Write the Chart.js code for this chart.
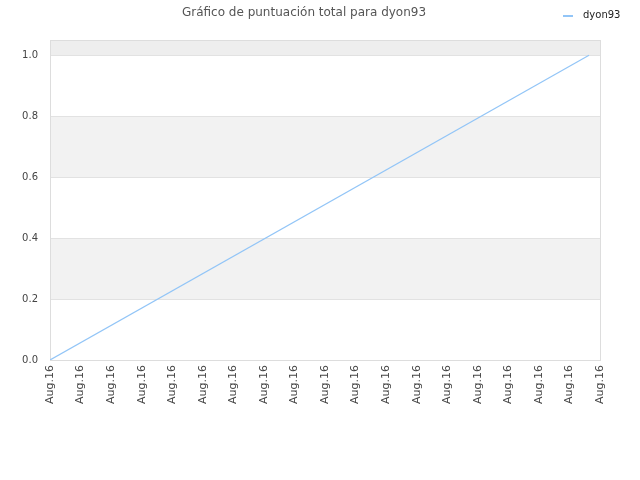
<!DOCTYPE html>
<html>
<head>
<meta charset="utf-8">
<script src="https://cdn.jsdelivr.net/npm/chart.js@4/dist/chart.umd.min.js"></script>
<style>
  html, body { margin: 0; padding: 0; background: #fff; }
  #wrap { width: 640px; height: 480px; }
</style>
</head>
<body>
<div id="wrap"><canvas id="lineChart" width="640" height="480"></canvas></div>
<script>
// Datos del gráfico
const chartTitle = 'Gráfico de puntuación total para dyon93';
const seriesName = 'dyon93';
const xLabels = ['Aug.16', 'Aug.16', 'Aug.16', 'Aug.16', 'Aug.16', 'Aug.16', 'Aug.16',
    'Aug.16', 'Aug.16', 'Aug.16', 'Aug.16', 'Aug.16', 'Aug.16', 'Aug.16',
    'Aug.16', 'Aug.16', 'Aug.16', 'Aug.16', 'Aug.16'];
const xPositions = [0, 17.64];
const scores = [0.0, 1.0];
const bands = [[0.2, 0.4], [0.6, 0.8], [1.0, 1.05]];

const lineColor = '#92c5f7';

// Bandas grises, borde del área y título/leyenda dibujados a mano
const decorPlugin = {
    id: 'decor',
    beforeDatasetsDraw(chart) {
        const { ctx, chartArea: a, scales: { y } } = chart;
        ctx.save();
        bands.forEach((b, i) => {
            const top = y.getPixelForValue(b[1]);
            const bottom = y.getPixelForValue(b[0]);
            ctx.fillStyle = i === bands.length - 1 ? '#eeeeee' : '#f2f2f2';
            ctx.fillRect(a.left, top, a.right - a.left, bottom - top);
        });
        // líneas de la rejilla por encima de las bandas
        ctx.strokeStyle = '#e2e2e2';
        ctx.lineWidth = 1;
        y.ticks.forEach(t => {
            const py = Math.round(y.getPixelForValue(t.value)) + 0.5;
            ctx.beginPath();
            ctx.moveTo(a.left, py);
            ctx.lineTo(a.right, py);
            ctx.stroke();
        });
        ctx.strokeStyle = '#dddddd';
        ctx.strokeRect(Math.round(a.left) + 0.5, Math.round(a.top) + 0.5,
            Math.round(a.right - a.left), Math.round(a.bottom - a.top));
        ctx.restore();
    },
    afterDraw(chart) {
        const { ctx } = chart;
        ctx.save();
        ctx.fillStyle = '#555555';
        ctx.font = '12px "DejaVu Sans"';
        ctx.textAlign = 'center';
        ctx.textBaseline = 'middle';
        ctx.fillText(chartTitle, 304, 13);

        ctx.strokeStyle = lineColor;
        ctx.lineWidth = 2;
        ctx.beginPath();
        ctx.moveTo(563, 16);
        ctx.lineTo(573, 16);
        ctx.stroke();
        ctx.fillStyle = '#222222';
        ctx.font = '10px "DejaVu Sans"';
        ctx.textAlign = 'left';
        ctx.fillText(seriesName, 583, 15);
        ctx.restore();
    }
};

const ctx = document.getElementById('lineChart').getContext('2d');
new Chart(ctx, {
    type: 'line',
    data: {
        datasets: [{
            label: seriesName,
            data: xPositions.map((x, i) => ({ x: x, y: scores[i] })),
            borderColor: lineColor,
            borderWidth: 1.2,
            pointRadius: 0,
            fill: false,
            tension: 0
        }]
    },
    options: {
        responsive: false,
        animation: false,
        devicePixelRatio: 1,
        layout: { padding: { left: 0, top: 40, right: 40, bottom: 0 } },
        plugins: {
            legend: { display: false },
            title: { display: false },
            tooltip: { enabled: false }
        },
        scales: {
            x: {
                type: 'linear',
                min: 0,
                max: xLabels.length - 1,
                grid: { display: false, drawTicks: false },
                border: { display: false },
                afterFit: (s) => { s.height = 120; },
                ticks: {
                    stepSize: 1,
                    autoSkip: false,
                    minRotation: 90,
                    maxRotation: 90,
                    padding: 5,
                    color: '#444444',
                    font: { family: 'DejaVu Sans', size: 11 },
                    callback: (v) => xLabels[v]
                }
            },
            y: {
                min: 0,
                max: 1.05,
                grid: { display: false, drawTicks: false },
                border: { display: false },
                afterFit: (s) => { s.width = 50; },
                afterBuildTicks: (s) => { s.ticks = s.ticks.filter(t => t.value <= 1.0001); },
                ticks: {
                    stepSize: 0.2,
                    padding: 12,
                    color: '#444444',
                    font: { family: 'DejaVu Sans', size: 10 },
                    callback: (v) => Number(v).toFixed(1)
                }
            }
        }
    },
    plugins: [decorPlugin]
});
</script>
</body>
</html>
